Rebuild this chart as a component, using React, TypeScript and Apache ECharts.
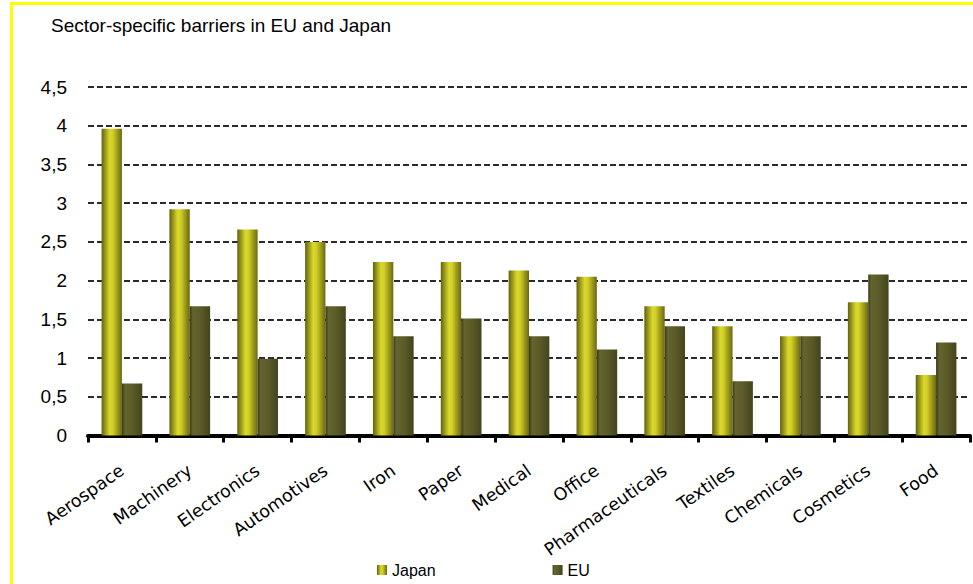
import React, { useEffect, useRef } from "react";
import * as echarts from "echarts";

const categories = [
  "Aerospace", "Machinery", "Electronics", "Automotives", "Iron", "Paper", "Medical",
  "Office", "Pharmaceuticals", "Textiles", "Chemicals", "Cosmetics", "Food",
];
const japanValues = [3.96, 2.92, 2.66, 2.5, 2.24, 2.24, 2.13, 2.05, 1.67, 1.41, 1.28, 1.72, 0.78];
const euValues = [0.67, 1.67, 0.99, 1.67, 1.28, 1.51, 1.28, 1.11, 1.41, 0.7, 1.28, 2.08, 1.2];
const seriesNames = ["Japan", "EU"];
const titleText = "Sector-specific barriers in EU and Japan";
const yMin = 0;
const yMax = 4.5;
const yInterval = 0.5;

const japanGradient = new echarts.graphic.LinearGradient(0, 0, 1, 0, [
  { offset: 0, color: "#62620c" },
  { offset: 0.4, color: "#dad82c" },
  { offset: 0.55, color: "#d2d026" },
  { offset: 1, color: "#6a6812" },
]);
const euGradient = new echarts.graphic.LinearGradient(0, 0, 1, 0, [
  { offset: 0, color: "#38381a" },
  { offset: 0.15, color: "#64642e" },
  { offset: 0.5, color: "#5c5c2a" },
  { offset: 1, color: "#44441e" },
]);

export default function App() {
  const ref = useRef<HTMLDivElement>(null);
  useEffect(() => {
    if (!ref.current) return;
    const chart = echarts.init(ref.current, null, { renderer: "svg" });
    chart.setOption({
      animation: false,
      backgroundColor: "#ffffff",
      title: {
        text: titleText,
        left: 46,
        top: 11,
        textStyle: {
          fontFamily: "Liberation Sans",
          fontSize: 19,
          fontWeight: "normal",
          color: "#000",
        },
      },
      graphic: [
        {
          type: "rect",
          shape: { x: 11.5, y: 3.5, width: 1000, height: 620 },
          style: { fill: "none", stroke: "#ffff00", lineWidth: 3 },
          z: 100,
        },
      ],
      legend: {
        data: seriesNames,
        left: 377,
        top: 562,
        itemWidth: 10,
        itemHeight: 10,
        itemGap: 117,
        padding: 0,
        icon: "rect",
        textStyle: { fontFamily: "Liberation Sans", fontSize: 16, color: "#000" },
      },
      grid: { left: 88, right: 3, top: 87, bottom: 148.5, containLabel: false },
      xAxis: {
        type: "category",
        data: categories,
        boundaryGap: true,
        axisLine: { show: true, lineStyle: { color: "#000", width: 4 } },
        axisTick: { show: true, length: 7, lineStyle: { color: "#000", width: 3 } },
        axisLabel: {
          rotate: 35,
          margin: 33,
          interval: 0,
          fontFamily: "DejaVu Sans",
          fontSize: 17.5,
          color: "#000",
        },
        splitLine: { show: false },
      },
      yAxis: {
        type: "value",
        min: yMin,
        max: yMax,
        interval: yInterval,
        axisLine: { show: false },
        axisTick: { show: false },
        axisLabel: {
          margin: 21,
          fontFamily: "Liberation Sans",
          fontSize: 19,
          color: "#000",
          formatter: (v: number) => String(v).replace(".", ","),
        },
        splitLine: {
          show: true,
          lineStyle: { color: "#2a2a2a", width: 1.8, type: [6, 3] },
        },
      },
      series: [
        {
          name: seriesNames[0],
          type: "bar",
          data: japanValues,
          barGap: "0%",
          barCategoryGap: "40%",
          itemStyle: { color: japanGradient },
        },
        {
          name: seriesNames[1],
          type: "bar",
          data: euValues,
          barGap: "0%",
          barCategoryGap: "40%",
          itemStyle: { color: euGradient },
        },
      ],
    });
    return () => chart.dispose();
  }, []);
  return (
    <div
      ref={ref}
      style={{ position: "absolute", left: 0, top: 0, width: 973, height: 584 }}
    />
  );
}
